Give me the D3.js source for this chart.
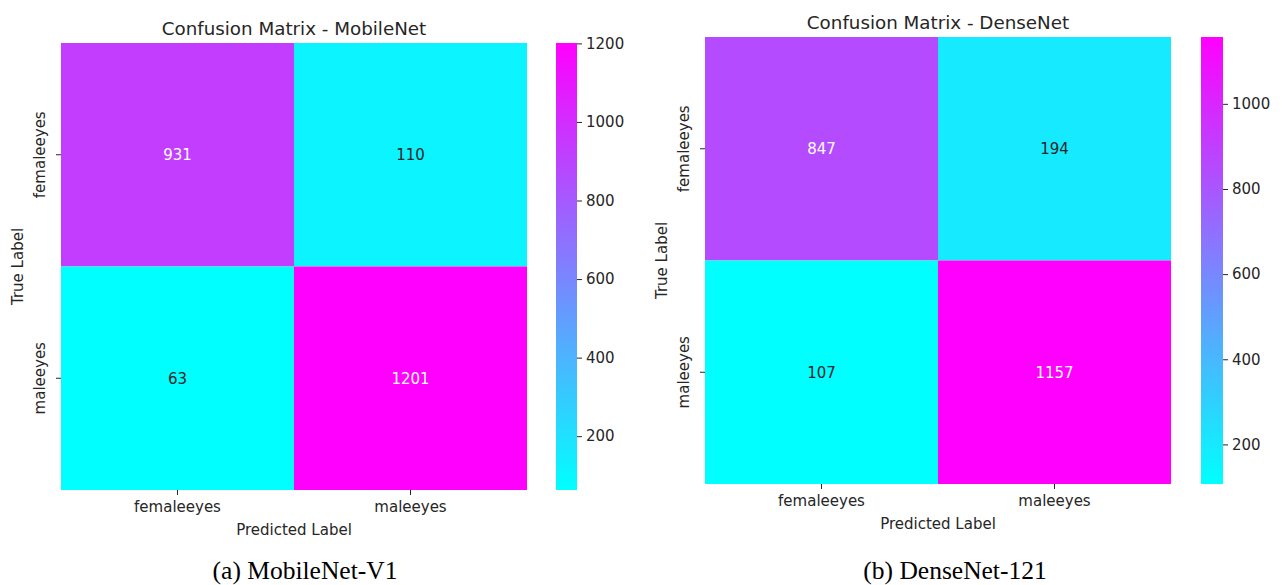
<!DOCTYPE html>
<html>
<head>
<meta charset="utf-8">
<script src="https://cdn.jsdelivr.net/npm/d3@7"></script>
<style>
  html, body { margin: 0; padding: 0; background: #fff; }
  svg { display: block; }
</style>
</head>
<body>
<svg id="chart" width="1282" height="585"></svg>
<script>
// ---- data ----
const categories = ["femaleeyes", "maleeyes"];
const mobilenetValues = [[931, 110], [63, 1201]];
const densenetValues = [[847, 194], [107, 1157]];
const mobilenetTicks = [200, 400, 600, 800, 1000, 1200];
const densenetTicks = [200, 400, 600, 800, 1000];
const titles = ["Confusion Matrix - MobileNet", "Confusion Matrix - DenseNet"];
const captions = ["(a) MobileNet-V1", "(b) DenseNet-121"];
const xAxisLabel = "Predicted Label";
const yAxisLabel = "True Label";

// ---- layout ----
const panels = [
  { values: mobilenetValues, ticks: mobilenetTicks, title: titles[0], caption: captions[0],
    x0: 61, x1: 527, y0: 43, y1: 490, cb0: 556, cb1: 577, titleY: 35, capX: 305 },
  { values: densenetValues, ticks: densenetTicks, title: titles[1], caption: captions[1],
    x0: 705, x1: 1171, y0: 37, y1: 484, cb0: 1201, cb1: 1223, titleY: 29, capX: 955 }
];

const svg = d3.select("#chart");
const font = "'DejaVu Sans', sans-serif";
const textColor = "#262626";

// matplotlib "cool" colormap
function cool(t) {
  t = Math.max(0, Math.min(1, t));
  return d3.rgb(Math.round(255 * t), Math.round(255 * (1 - t)), 255);
}
function luminance(c) {
  const f = v => { v /= 255; return v <= 0.03928 ? v / 12.92 : Math.pow((v + 0.055) / 1.055, 2.4); };
  return 0.2126 * f(c.r) + 0.7152 * f(c.g) + 0.0722 * f(c.b);
}

const defs = svg.append("defs");
defs.append("clipPath").attr("id", "pageClip")
  .append("rect").attr("x", 0).attr("y", 0).attr("width", 1270).attr("height", 585);

panels.forEach((p, pi) => {
  const flat = p.values.flat();
  const vmin = d3.min(flat), vmax = d3.max(flat);
  const norm = d3.scaleLinear().domain([vmin, vmax]).range([0, 1]);
  const color = v => cool(norm(v));

  const xs = d3.scaleBand().domain(categories).range([p.x0, p.x1]);
  const ys = d3.scaleBand().domain(categories).range([p.y0, p.y1]);

  const g = svg.append("g").attr("clip-path", "url(#pageClip)");

  // cells
  const cells = [];
  p.values.forEach((row, i) => row.forEach((v, j) => cells.push({ r: categories[i], c: categories[j], v })));
  g.selectAll("rect.cell").data(cells).enter().append("rect")
    .attr("x", d => xs(d.c)).attr("y", d => ys(d.r))
    .attr("width", xs.bandwidth()).attr("height", ys.bandwidth())
    .attr("fill", d => color(d.v));

  g.selectAll("text.ann").data(cells).enter().append("text")
    .attr("x", d => xs(d.c) + xs.bandwidth() / 2)
    .attr("y", d => ys(d.r) + ys.bandwidth() / 2)
    .attr("dy", "0.35em").attr("text-anchor", "middle")
    .attr("font-family", font).attr("font-size", 15)
    .attr("fill", d => luminance(color(d.v)) > 0.408 ? textColor : "#ffffff")
    .text(d => d.v);

  // x axis
  const xAxis = d3.axisBottom(xs).tickSize(5).tickPadding(6.5);
  const xg = g.append("g").attr("transform", `translate(0,${p.y1})`).call(xAxis);
  xg.select(".domain").remove();
  xg.selectAll("line").attr("stroke", textColor).attr("stroke-width", 1);
  xg.selectAll("text").attr("font-family", font).attr("font-size", 15).attr("fill", textColor);

  // y axis with rotated labels
  const yAxis = d3.axisLeft(ys).tickSize(5).tickPadding(5);
  const yg = g.append("g").attr("transform", `translate(${p.x0},0)`).call(yAxis);
  yg.select(".domain").remove();
  yg.selectAll("line").attr("stroke", textColor).attr("stroke-width", 1);
  yg.selectAll("text")
    .attr("font-family", font).attr("font-size", 15).attr("fill", textColor)
    .attr("x", null).attr("dy", null)
    .attr("text-anchor", "middle")
    .attr("transform", "translate(-16,0) rotate(-90)");

  // axis labels
  g.append("text").attr("x", (p.x0 + p.x1) / 2).attr("y", p.y1 + 45)
    .attr("text-anchor", "middle").attr("font-family", font).attr("font-size", 15)
    .attr("fill", textColor).text(xAxisLabel);
  g.append("text")
    .attr("transform", `translate(${p.x0 - 38},${(p.y0 + p.y1) / 2}) rotate(-90)`)
    .attr("text-anchor", "middle").attr("font-family", font).attr("font-size", 15)
    .attr("fill", textColor).text(yAxisLabel);

  // title
  g.append("text").attr("x", (p.x0 + p.x1) / 2).attr("y", p.titleY)
    .attr("text-anchor", "middle").attr("font-family", font).attr("font-size", 18.3)
    .attr("fill", textColor).text(p.title);

  // colorbar
  const gradId = "grad" + pi;
  const grad = defs.append("linearGradient").attr("id", gradId)
    .attr("x1", 0).attr("y1", 1).attr("x2", 0).attr("y2", 0);
  d3.range(0, 1.0001, 0.1).forEach(t => {
    grad.append("stop").attr("offset", t).attr("stop-color", cool(t).formatHex());
  });
  g.append("rect").attr("x", p.cb0).attr("y", p.y0)
    .attr("width", p.cb1 - p.cb0).attr("height", p.y1 - p.y0)
    .attr("fill", `url(#${gradId})`);
  const cs = d3.scaleLinear().domain([vmin, vmax]).range([p.y1, p.y0]);
  const cAxis = d3.axisRight(cs).tickValues(p.ticks).tickFormat(d3.format("d"))
    .tickSize(5).tickPadding(4);
  const cg = g.append("g").attr("transform", `translate(${p.cb1},0)`).call(cAxis);
  cg.select(".domain").remove();
  cg.selectAll("line").attr("stroke", textColor).attr("stroke-width", 1);
  cg.selectAll("text").attr("font-family", font).attr("font-size", 15).attr("fill", textColor);

  // caption
  svg.append("text").attr("x", p.capX).attr("y", 579)
    .attr("text-anchor", "middle").attr("font-family", "'Liberation Serif', 'Times New Roman', serif")
    .attr("font-size", 25.5).attr("fill", "#000").text(p.caption);
});
</script>
</body>
</html>
